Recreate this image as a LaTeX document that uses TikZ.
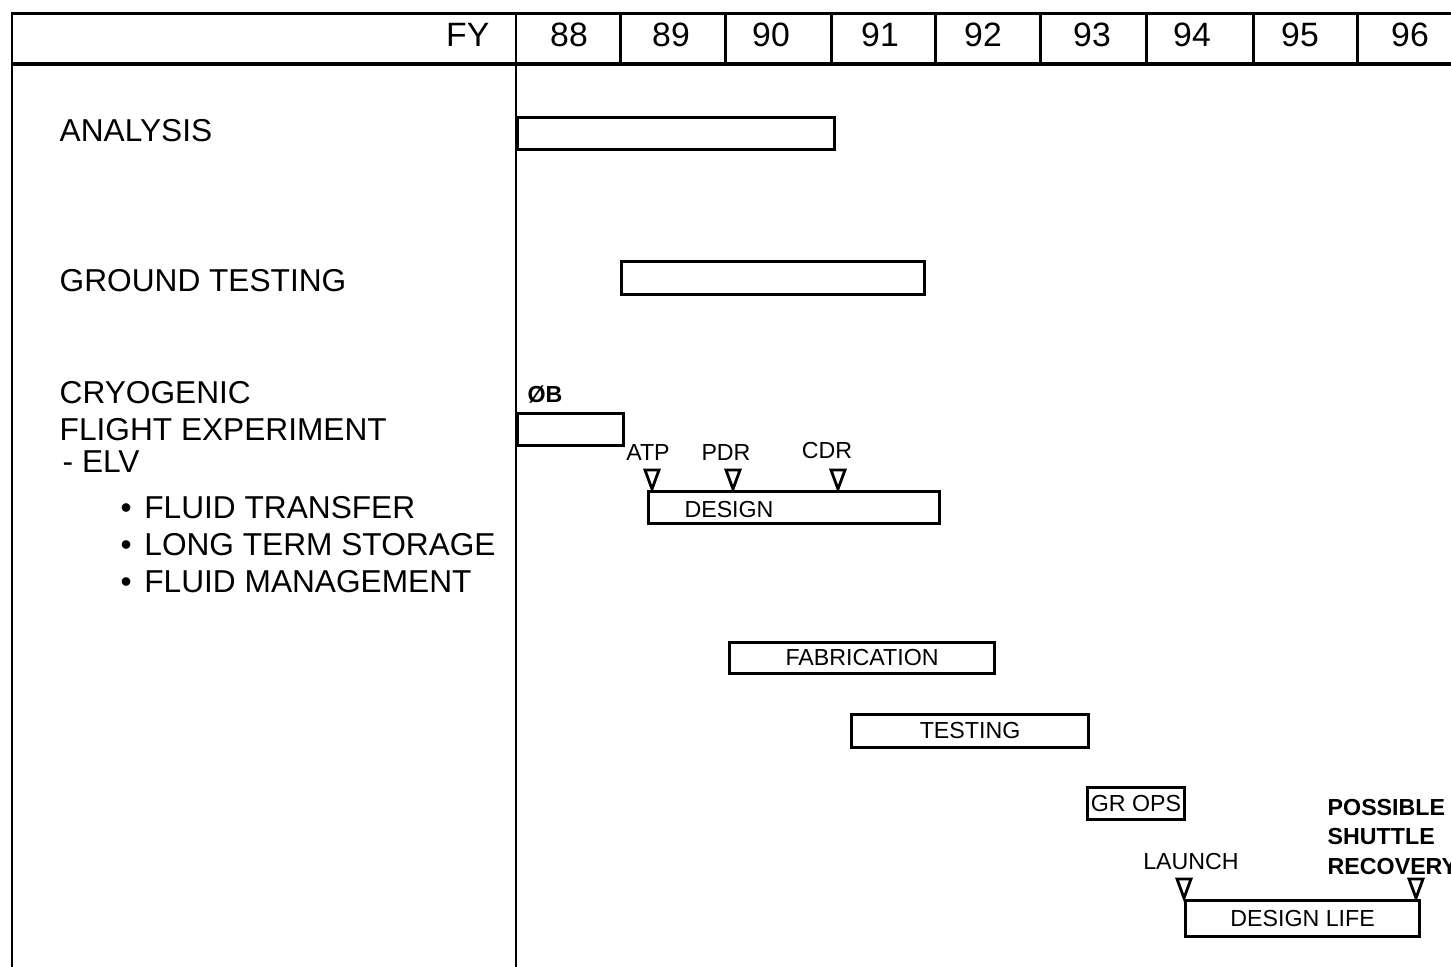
\documentclass[tikz,border=0pt]{standalone}
\usepackage{fontspec}
\setmainfont{Liberation Sans}
\usetikzlibrary{positioning}

\tikzset{
  grid/.style={line width=0.85pt},
  head/.style={font=\fontsize{9.6}{11}\selectfont, inner sep=0pt},
  task/.style={anchor=west, font=\fontsize{9.0}{11}\selectfont, inner sep=0pt},
  bar/.style={draw, line width=0.85pt, inner sep=0pt, anchor=north west,
              font=\fontsize{6.6}{7}\selectfont},
  tag/.style={font=\fontsize{6.6}{7}\selectfont, inner sep=0pt},
  mstone/.style={line width=0.8pt, line join=miter},
}

\begin{document}
\begin{tikzpicture}[x=0.01cm, y=-0.01cm]
\useasboundingbox (0,0) rectangle (1451,967);

% frame
\draw[grid] (1451,14) -- (12,14) -- (12,967);
\draw[grid, line width=1.2pt] (12,64) -- (1451,64);
\draw[grid] (516,14) -- (516,967);
\foreach \x in {620,725,831,935,1040,1146,1253,1357}
  \draw[grid] (\x,14) -- (\x,64);

% years
\node[head, anchor=east] (fy) at (490,35) {FY};
\foreach \x/\yr in {569/88,671/89,771/90,880/91,983/92,1092/93,1192/94,1300/95,1410/96}
  \node[head] (y\yr) at (\x,35) {\yr};

% tasks
\node[task] (analysis) at (59,131) {ANALYSIS};
\node[task] (ground) at (59,281) {GROUND TESTING};
\node[task] (cryo) at (59,393) {CRYOGENIC};
\node[task] (flight) at (59,430) {FLIGHT EXPERIMENT};
\node[task] (elv) at (62,462) {- ELV};
\node[task] (transfer) at (120,508) {\textbullet\hspace{0.4em}FLUID TRANSFER};
\node[task] (storage) at (120,545) {\textbullet\hspace{0.4em}LONG TERM STORAGE};
\node[task] (manage) at (120,582) {\textbullet\hspace{0.4em}FLUID MANAGEMENT};

% bars
\node[bar, minimum width=3.17cm, minimum height=0.32cm] (analysisbar) at (516,116) {};
\node[bar, minimum width=3.03cm, minimum height=0.33cm] (groundbar) at (620,260) {};
\node[bar, minimum width=1.06cm, minimum height=0.32cm] (obbar) at (516,412) {};
\node[tag, font=\fontsize{6.6}{7}\selectfont\bfseries] (ob) at (545,395) {ØB};
\node[bar, minimum width=2.91cm, minimum height=0.32cm] (designbar) at (647,490) {};
\node[tag] (design) at (729,510) {DESIGN};
\node[bar, minimum width=2.65cm, minimum height=0.31cm] (fabbar) at (728,641) {FABRICATION};
\node[bar, minimum width=2.37cm, minimum height=0.33cm] (testbar) at (850,713) {TESTING};
\node[bar, minimum width=0.97cm, minimum height=0.32cm] (gropsbar) at (1086,786) {GR OPS};
\node[bar, minimum width=2.34cm, minimum height=0.36cm] (lifebar) at (1184,899) {DESIGN LIFE};

% milestones
\coordinate (atp) at (652,489);
\coordinate (pdr) at (733,489);
\coordinate (cdr) at (838,489);
\coordinate (launch) at (1184,898);
\coordinate (recovery) at (1416,898);
\foreach \m in {atp,pdr,cdr,launch,recovery}
  \draw[mstone] (\m) -- ++(-7,-19) -- ++(14,0) -- cycle;
\node[tag] (atplbl) at (648,453) {ATP};
\node[tag] (pdrlbl) at (726,453) {PDR};
\node[tag] (cdrlbl) at (827,451) {CDR};
\node[tag] (launchlbl) at (1191,862) {LAUNCH};
\node[tag, anchor=west, align=left, font=\fontsize{6.6}{8.4}\selectfont\bfseries]
  (recoverylbl) at (1327,837) {POSSIBLE\\SHUTTLE\\RECOVERY};
\end{tikzpicture}
\end{document}
